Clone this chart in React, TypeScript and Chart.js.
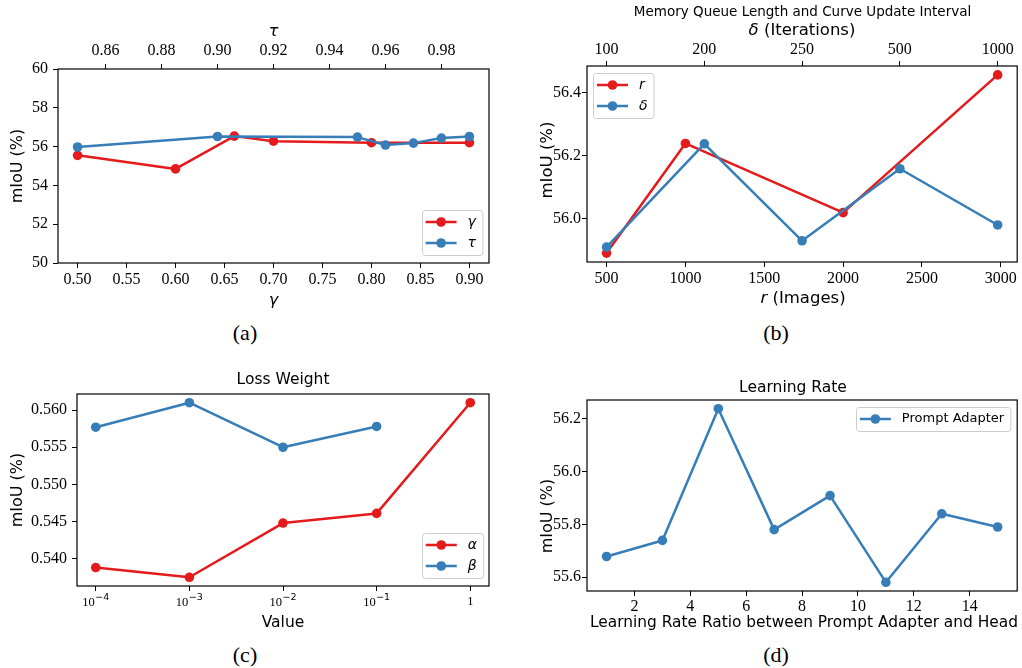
import React, { useEffect, useRef } from "react";
import { Chart, registerables } from "chart.js";

Chart.register(...registerables);

const RED = "#e41a1c";
const BLUE = "#377eb8";
const SANS = "'DejaVu Sans', 'Noto Sans', sans-serif";
const SERIF = "'Liberation Serif', 'Times New Roman', serif";

// ---------- Panel (a) ----------
const gammaValues = [0.5, 0.6, 0.66, 0.7, 0.8, 0.9];
const gammaMiou = [55.55, 54.85, 56.54, 56.28, 56.2, 56.2];
const tauValues = [0.85, 0.9, 0.95, 0.96, 0.97, 0.98, 0.99];
const tauMiou = [55.98, 56.52, 56.49, 56.08, 56.18, 56.44, 56.52];
const aYTicks = [50, 52, 54, 56, 58, 60];
const aGammaTicks = [0.5, 0.55, 0.6, 0.65, 0.7, 0.75, 0.8, 0.85, 0.9];
const aTauTicks = [0.86, 0.88, 0.9, 0.92, 0.94, 0.96, 0.98];

// ---------- Panel (b) ----------
const rImages = [500, 1000, 2000, 2980];
const rMiou = [55.892, 56.239, 56.02, 56.456];
const deltaLabels = ["100", "200", "250", "500", "1000"];
const deltaMiou = [55.911, 56.238, 55.931, 56.159, 55.981];
const bYTicks = [56.0, 56.2, 56.4];
const bRTicks = [500, 1000, 1500, 2000, 2500, 3000];

// ---------- Panel (c) ----------
const lossWeights = [1e-4, 1e-3, 1e-2, 1e-1, 1];
const alphaMiou = [0.53878, 0.53747, 0.54478, 0.54608, 0.561];
const betaWeights = [1e-4, 1e-3, 1e-2, 1e-1];
const betaMiou = [0.5577, 0.561, 0.555, 0.5578];
const cYTicks = [0.54, 0.545, 0.55, 0.555, 0.56];
const cXTickBases = ["10", "10", "10", "10", "1"];
const cXTickExps = ["\u22124", "\u22123", "\u22122", "\u22121", ""];

// ---------- Panel (d) ----------
const lrRatios = [1, 3, 5, 7, 9, 11, 13, 15];
const adapterMiou = [55.678, 55.739, 56.239, 55.78, 55.909, 55.58, 55.84, 55.79];
const dYTicks = [55.6, 55.8, 56.0, 56.2];
const dXTicks = [2, 4, 6, 8, 10, 12, 14];

function margin5(...arrs: number[][]): [number, number] {
  const all = ([] as number[]).concat(...arrs);
  const lo = Math.min(...all);
  const hi = Math.max(...all);
  const m = (hi - lo) * 0.05;
  return [lo - m, hi + m];
}
function logMargin5(arr: number[]): [number, number] {
  const l = arr.map((v) => Math.log10(v));
  const [lo, hi] = margin5(l);
  return [Math.pow(10, lo), Math.pow(10, hi)];
}

type AxisOpt = {
  position: "left" | "bottom" | "top";
  type?: string;
  min: number;
  max: number;
  ticks: number[];
  fmt: (v: number, i: number) => string;
  size: number;
  pad: number;
  fontSize?: number;
};

function axis(o: AxisOpt) {
  const horizontal = o.position !== "left";
  return {
    type: o.type || "linear",
    axis: horizontal ? "x" : "y",
    position: o.position,
    bounds: "data",
    min: o.min,
    max: o.max,
    grid: {
      display: true,
      drawOnChartArea: false,
      drawTicks: true,
      tickLength: 5,
      color: "#000",
      lineWidth: 1,
    },
    border: { display: false },
    ticks: {
      font: { family: SERIF, size: o.fontSize || 16 },
      color: "#000",
      padding: o.pad,
      maxRotation: 0,
      minRotation: 0,
      autoSkip: false,
      callback: (v: any, i: number) => o.fmt(Number(v), i),
    },
    afterBuildTicks: (s: any) => {
      s.ticks = o.ticks.map((v) => ({ value: v }));
    },
    afterFit: (s: any) => {
      if (horizontal) s.height = o.size;
      else s.width = o.size;
      s.paddingLeft = 0;
      s.paddingRight = 0;
      s.paddingTop = 0;
      s.paddingBottom = 0;
    },
  };
}

type Part = { text: string; italic?: boolean };
type TextSpec = { parts: Part[]; x: number; y: number; size: number; rotate?: boolean };
type LegendEntry = { label: string; color: string; italic?: boolean };
type LegendSpec = {
  corner: "tl" | "tr" | "br";
  dx: number;
  dy: number;
  size: number;
  entries: LegendEntry[];
};
type PowerTicks = { values: number[]; bases: string[]; exps: string[]; baseDy: number; expDy: number };

function roundRectPath(ctx: CanvasRenderingContext2D, x: number, y: number, w: number, h: number, r: number) {
  ctx.beginPath();
  ctx.moveTo(x + r, y);
  ctx.lineTo(x + w - r, y);
  ctx.arcTo(x + w, y, x + w, y + r, r);
  ctx.lineTo(x + w, y + h - r);
  ctx.arcTo(x + w, y + h, x + w - r, y + h, r);
  ctx.lineTo(x + r, y + h);
  ctx.arcTo(x, y + h, x, y + h - r, r);
  ctx.lineTo(x, y + r);
  ctx.arcTo(x, y, x + r, y, r);
  ctx.closePath();
}

function overlay(texts: TextSpec[], legend: LegendSpec, power?: PowerTicks) {
  return {
    id: "overlay",
    afterDraw(chart: any) {
      const ctx = chart.ctx as CanvasRenderingContext2D;
      const a = chart.chartArea;
      ctx.save();
      // frame (spines)
      ctx.strokeStyle = "#000";
      ctx.lineWidth = 1.2;
      ctx.strokeRect(a.left, a.top, a.right - a.left, a.bottom - a.top);

      // power-of-ten tick labels (base + superscript exponent)
      if (power) {
        const sx = chart.scales.x;
        const baseFont = `12.5px ${SERIF}`;
        const expFont = `9.5px ${SANS}`;
        ctx.fillStyle = "#000";
        ctx.textBaseline = "middle";
        ctx.textAlign = "left";
        power.values.forEach((v, i) => {
          const px = sx.getPixelForValue(v);
          ctx.font = baseFont;
          const bw = ctx.measureText(power.bases[i]).width;
          ctx.font = expFont;
          const ew = power.exps[i] ? ctx.measureText(power.exps[i]).width + 0.5 : 0;
          const x0 = px - (bw + ew) / 2;
          ctx.font = baseFont;
          ctx.fillText(power.bases[i], x0, a.bottom + (power.exps[i] ? power.baseDy : power.baseDy - 1.5));
          if (power.exps[i]) {
            ctx.font = expFont;
            ctx.fillText(power.exps[i], x0 + bw + 0.5, a.bottom + power.expDy);
          }
        });
      }

      // legend
      const rowH = 21, pad = 4, lineLen = 31, gap = 11;
      const fonts = legend.entries.map((e) => `${e.italic ? "italic " : ""}${legend.size}px ${SANS}`);
      let tw = 0;
      legend.entries.forEach((e, i) => {
        ctx.font = fonts[i];
        tw = Math.max(tw, ctx.measureText(e.label).width);
      });
      const w = pad + lineLen + gap + tw + 6;
      const h = legend.entries.length * rowH + 3;
      let x0 = 0, y0 = 0;
      if (legend.corner === "tl") {
        x0 = a.left + legend.dx;
        y0 = a.top + legend.dy;
      } else if (legend.corner === "tr") {
        x0 = a.right - legend.dx - w;
        y0 = a.top + legend.dy;
      } else {
        x0 = a.right - legend.dx - w;
        y0 = a.bottom - legend.dy - h;
      }
      roundRectPath(ctx, Math.round(x0) + 0.5, Math.round(y0) + 0.5, w, h, 3);
      ctx.fillStyle = "rgba(255,255,255,0.8)";
      ctx.fill();
      ctx.strokeStyle = "#cccccc";
      ctx.lineWidth = 1;
      ctx.stroke();
      legend.entries.forEach((e, i) => {
        const yy = y0 + 12 + i * rowH;
        ctx.strokeStyle = e.color;
        ctx.lineWidth = 2.5;
        ctx.beginPath();
        ctx.moveTo(x0 + pad, yy);
        ctx.lineTo(x0 + pad + lineLen, yy);
        ctx.stroke();
        ctx.fillStyle = e.color;
        ctx.beginPath();
        ctx.arc(x0 + pad + lineLen / 2, yy, 4.8, 0, Math.PI * 2);
        ctx.fill();
        ctx.fillStyle = "#000";
        ctx.font = fonts[i];
        ctx.textBaseline = "middle";
        ctx.textAlign = "left";
        ctx.fillText(e.label, x0 + pad + lineLen + gap, yy);
      });

      // titles
      texts.forEach((t) => {
        ctx.save();
        ctx.translate(t.x, t.y);
        if (t.rotate) ctx.rotate(-Math.PI / 2);
        const fs = t.parts.map((p) => `${p.italic ? "italic " : ""}${t.size}px ${SANS}`);
        const ws = t.parts.map((p, i) => {
          ctx.font = fs[i];
          return ctx.measureText(p.text).width;
        });
        let x = -ws.reduce((s, v) => s + v, 0) / 2;
        ctx.textBaseline = "middle";
        ctx.textAlign = "left";
        ctx.fillStyle = "#000";
        t.parts.forEach((p, i) => {
          ctx.font = fs[i];
          ctx.fillText(p.text, x, 0);
          x += ws[i];
        });
        ctx.restore();
      });
      ctx.restore();
    },
  };
}

const lineStyle = {
  borderWidth: 2.5,
  pointRadius: 4.8,
  pointHoverRadius: 4.8,
  pointBorderWidth: 0,
  tension: 0,
  fill: false,
  borderJoinStyle: "round",
};

function baseOptions(padding: any, scales: any) {
  return {
    animation: false,
    responsive: false,
    maintainAspectRatio: false,
    layout: { padding },
    plugins: { legend: { display: false }, tooltip: { enabled: false }, title: { display: false } },
    events: [],
    scales,
  };
}

function configA(): any {
  const [gx0, gx1] = margin5(gammaValues);
  const [tx0, tx1] = margin5(tauValues);
  return {
    type: "line",
    data: {
      datasets: [
        {
          label: "γ",
          data: gammaValues.map((x, i) => ({ x, y: gammaMiou[i] })),
          xAxisID: "x",
          yAxisID: "y",
          borderColor: RED,
          backgroundColor: RED,
          order: 1,
          ...lineStyle,
        },
        {
          label: "τ",
          data: tauValues.map((x, i) => ({ x, y: tauMiou[i] })),
          xAxisID: "x2",
          yAxisID: "y",
          borderColor: BLUE,
          backgroundColor: BLUE,
          order: 0,
          ...lineStyle,
        },
      ],
    },
    options: baseOptions({ left: 0, right: 16, top: 0, bottom: 0 }, {
      x: axis({ position: "bottom", min: gx0, max: gx1, ticks: aGammaTicks, fmt: (v) => v.toFixed(2), size: 52, pad: 2 }),
      x2: axis({ position: "top", min: tx0, max: tx1, ticks: aTauTicks, fmt: (v) => v.toFixed(2), size: 69, pad: 4 }),
      y: axis({ position: "left", min: 50, max: 60, ticks: aYTicks, fmt: (v) => String(v), size: 58, pad: 5 }),
    }),
    plugins: [
      overlay(
        [
          { parts: [{ text: "τ", italic: true }], x: 273.5, y: 32, size: 16 },
          { parts: [{ text: "γ", italic: true }], x: 273.5, y: 301, size: 16 },
          { parts: [{ text: "mIoU (%)" }], x: 18, y: 166, size: 16, rotate: true },
        ],
        {
          corner: "br",
          dx: 7,
          dy: 8,
          size: 14,
          entries: [
            { label: "γ", color: RED, italic: true },
            { label: "τ", color: BLUE, italic: true },
          ],
        }
      ),
    ],
  };
}

function configB(): any {
  const [rx0, rx1] = margin5(rImages);
  const idx = deltaLabels.map((_, i) => i);
  const [dx0, dx1] = margin5(idx);
  const [y0, y1] = margin5(rMiou, deltaMiou);
  return {
    type: "line",
    data: {
      datasets: [
        {
          label: "r",
          data: rImages.map((x, i) => ({ x, y: rMiou[i] })),
          xAxisID: "x",
          yAxisID: "y",
          borderColor: RED,
          backgroundColor: RED,
          order: 1,
          ...lineStyle,
        },
        {
          label: "δ",
          data: deltaMiou.map((y, i) => ({ x: i, y })),
          xAxisID: "x2",
          yAxisID: "y",
          borderColor: BLUE,
          backgroundColor: BLUE,
          order: 0,
          ...lineStyle,
        },
      ],
    },
    options: baseOptions({ left: 0, right: 3, top: 0, bottom: 0 }, {
      x: axis({ position: "bottom", min: rx0, max: rx1, ticks: bRTicks, fmt: (v) => String(v), size: 53, pad: 2 }),
      x2: axis({ position: "top", min: dx0, max: dx1, ticks: idx, fmt: (v) => deltaLabels[Math.round(v)], size: 66, pad: 2 }),
      y: axis({ position: "left", min: y0, max: y1, ticks: bYTicks, fmt: (v) => v.toFixed(1), size: 77, pad: 1 }),
    }),
    plugins: [
      overlay(
        [
          { parts: [{ text: "Memory Queue Length and Curve Update Interval" }], x: 292.5, y: 12, size: 13.5 },
          { parts: [{ text: "δ", italic: true }, { text: " (Iterations)" }], x: 292, y: 31, size: 16.5 },
          { parts: [{ text: "r", italic: true }, { text: " (Images)" }], x: 293, y: 299, size: 16.5 },
          { parts: [{ text: "mIoU (%)" }], x: 38, y: 160, size: 16.5, rotate: true },
        ],
        {
          corner: "tl",
          dx: 6,
          dy: 7,
          size: 14,
          entries: [
            { label: "r", color: RED, italic: true },
            { label: "δ", color: BLUE, italic: true },
          ],
        }
      ),
    ],
  };
}

function configC(): any {
  const [x0, x1] = logMargin5(lossWeights);
  const [y0, y1] = margin5(alphaMiou, betaMiou);
  return {
    type: "line",
    data: {
      datasets: [
        {
          label: "α",
          data: lossWeights.map((x, i) => ({ x, y: alphaMiou[i] })),
          borderColor: RED,
          backgroundColor: RED,
          order: 1,
          ...lineStyle,
        },
        {
          label: "β",
          data: betaWeights.map((x, i) => ({ x, y: betaMiou[i] })),
          borderColor: BLUE,
          backgroundColor: BLUE,
          order: 0,
          ...lineStyle,
        },
      ],
    },
    options: baseOptions({ left: 0, right: 16, top: 34, bottom: 0 }, {
      x: axis({
        position: "bottom",
        type: "logarithmic",
        min: x0,
        max: x1,
        ticks: lossWeights,
        fmt: () => "",
        size: 54,
        pad: 4,
        fontSize: 13,
      }),
      y: axis({ position: "left", min: y0, max: y1, ticks: cYTicks, fmt: (v) => v.toFixed(3), size: 77, pad: 5 }),
    }),
    plugins: [
      overlay(
        [
          { parts: [{ text: "Loss Weight" }], x: 283, y: 20, size: 15.5 },
          { parts: [{ text: "Value" }], x: 283, y: 263, size: 15.5 },
          { parts: [{ text: "mIoU (%)" }], x: 17.5, y: 130, size: 16, rotate: true },
        ],
        {
          corner: "br",
          dx: 6,
          dy: 8,
          size: 14,
          entries: [
            { label: "α", color: RED, italic: true },
            { label: "β", color: BLUE, italic: true },
          ],
        },
        { values: lossWeights, bases: cXTickBases, exps: cXTickExps, baseDy: 17, expDy: 11.5 }
      ),
    ],
  };
}

function configD(): any {
  const [x0, x1] = margin5(lrRatios);
  const [y0, y1] = margin5(adapterMiou);
  return {
    type: "line",
    data: {
      datasets: [
        {
          label: "Prompt Adapter",
          data: lrRatios.map((x, i) => ({ x, y: adapterMiou[i] })),
          borderColor: BLUE,
          backgroundColor: BLUE,
          ...lineStyle,
        },
      ],
    },
    options: baseOptions({ left: 0, right: 2, top: 40, bottom: 0 }, {
      x: axis({ position: "bottom", min: x0, max: x1, ticks: dXTicks, fmt: (v) => String(v), size: 49, pad: 1 }),
      y: axis({ position: "left", min: y0, max: y1, ticks: dYTicks, fmt: (v) => v.toFixed(1), size: 77, pad: 1 }),
    }),
    plugins: [
      overlay(
        [
          { parts: [{ text: "Learning Rate" }], x: 283, y: 27.5, size: 15.5 },
          { parts: [{ text: "Learning Rate Ratio between Prompt Adapter and Head" }], x: 294, y: 262.5, size: 15.4 },
          { parts: [{ text: "mIoU (%)" }], x: 37.5, y: 156, size: 16, rotate: true },
        ],
        {
          corner: "tr",
          dx: 7,
          dy: 7,
          size: 13,
          entries: [{ label: "Prompt Adapter", color: BLUE }],
        }
      ),
    ],
  };
}

const panels = [
  { left: 0, top: 0, width: 505, height: 315, make: configA, caption: "(a)", cx: 245, cy: 333 },
  { left: 510, top: 0, width: 512, height: 315, make: configB, caption: "(b)", cx: 776, cy: 333 },
  { left: 0, top: 360, width: 505, height: 280, make: configC, caption: "(c)", cx: 245, cy: 655 },
  { left: 510, top: 360, width: 512, height: 280, make: configD, caption: "(d)", cx: 776, cy: 655 },
];

export default function App() {
  const refs = useRef<(HTMLCanvasElement | null)[]>([]);

  useEffect(() => {
    const charts = panels.map((p, i) => new Chart(refs.current[i] as HTMLCanvasElement, p.make()));
    return () => charts.forEach((c) => c.destroy());
  }, []);

  return (
    <div
      style={{
        position: "absolute",
        left: 0,
        top: 0,
        width: 1022,
        height: 668,
        background: "#fff",
        overflow: "hidden",
      }}
    >
      {panels.map((p, i) => (
        <canvas
          key={"c" + i}
          ref={(el) => {
            refs.current[i] = el;
          }}
          width={p.width}
          height={p.height}
          style={{ position: "absolute", left: p.left, top: p.top, width: p.width, height: p.height }}
        />
      ))}
      {panels.map((p, i) => (
        <div
          key={"t" + i}
          style={{
            position: "absolute",
            left: p.cx,
            top: p.cy,
            transform: "translate(-50%, -50%)",
            fontFamily: SERIF,
            fontSize: 22,
            lineHeight: 1,
            color: "#000",
            whiteSpace: "nowrap",
          }}
        >
          {p.caption}
        </div>
      ))}
    </div>
  );
}
